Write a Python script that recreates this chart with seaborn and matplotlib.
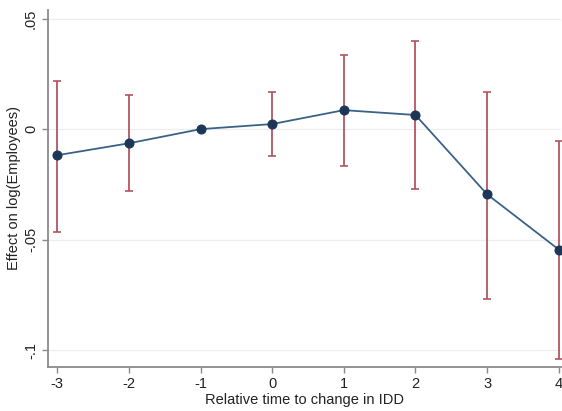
import numpy as np
import pandas as pd
import seaborn as sns
import matplotlib.pyplot as plt

# event-study coefficients
periods = [-3, -2, -1, 0, 1, 2, 3, 4]
coef = [-0.0118, -0.0064, 0.0, 0.0023, 0.0086, 0.0064, -0.0295, -0.0545]
ci_low = [-0.0464, -0.0282, np.nan, -0.0123, -0.0168, -0.0273, -0.0768, -0.1040]
ci_high = [0.0218, 0.0155, np.nan, 0.0168, 0.0336, 0.0398, 0.0170, -0.0055]

df = pd.DataFrame({'period': periods, 'coef': coef,
                   'lo': ci_low, 'hi': ci_high})

sns.set_style('white')
plt.rcParams['font.family'] = ['Liberation Sans', 'DejaVu Sans']
plt.rcParams['axes.unicode_minus'] = False

fig = plt.figure(figsize=(5.62, 4.11), dpi=100)
ax = fig.add_axes([0.086, 0.107, 0.912, 0.869])

# confidence intervals
ci = df.dropna()
ax.errorbar(ci.period, ci.coef, yerr=[ci.coef - ci.lo, ci.hi - ci.coef],
            fmt='none', ecolor='#b4555f', elinewidth=1.3, capsize=3,
            capthick=1.2, zorder=2)

sns.lineplot(data=df, x='period', y='coef', ax=ax, color='#3a6289',
             linewidth=1.3, marker='o', markersize=6.5,
             markerfacecolor='#1c3658', markeredgecolor='#1c3658', zorder=3)

ax.set_xlim(-3.126, 4.03)
ax.set_ylim(-0.1077, 0.054)
ax.set_xticks(periods)
ax.set_xticklabels([str(p) for p in periods])
ax.set_yticks([-0.1, -0.05, 0, 0.05])
ax.set_yticklabels(['-.1', '-.05', '0', '.05'], rotation=90, va='center')
ax.grid(axis='y', color='#eeeeee', linewidth=0.9)
ax.set_axisbelow(True)

for s in ['top', 'right']:
    ax.spines[s].set_visible(False)
for s in ['left', 'bottom']:
    ax.spines[s].set_color('#8a8a8a')
    ax.spines[s].set_linewidth(1.3)

ax.tick_params(axis='both', length=4, width=1, color='#8a8a8a',
               labelsize=10.5, labelcolor='#222222', direction='out')
ax.tick_params(axis='both', which='both', left=True, bottom=True)
ax.set_xlabel('Relative time to change in IDD', fontsize=10.5,
              color='#222222', labelpad=1)
ax.set_ylabel('Effect on log(Employees)', fontsize=10.5, color='#222222',
              labelpad=2)

fig.savefig('out.png', dpi=100)
